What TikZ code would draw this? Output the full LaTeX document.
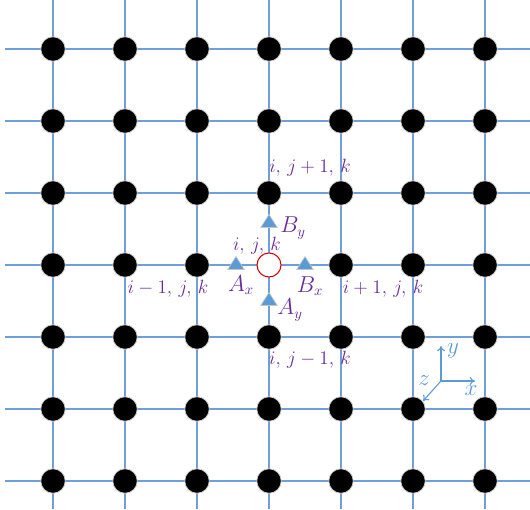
\documentclass[tikz,border=0pt]{standalone}
\usepackage{tikz}
\usetikzlibrary{shapes.geometric,arrows.meta,positioning}
\definecolor{gridblue}{HTML}{6F9FD8}
\definecolor{triblue}{HTML}{5B9BD5}
\definecolor{labelpurple}{HTML}{6A2C9C}

\begin{document}
\begin{tikzpicture}[x=0.75pt, y=-0.75pt,
    gridline/.style={draw=gridblue, line width=0.9pt},
    node/.style={circle, fill=black, draw=gray!40, line width=0.6pt, minimum size=24.5pt*0.75, inner sep=0pt},
    centre/.style={circle, fill=white, draw=red!85!black, line width=0.8pt, minimum size=24pt*0.75, inner sep=0pt},
    flux/.style={isosceles triangle, shape border rotate=90, isosceles triangle apex angle=65, fill=triblue, draw=gray!45, line width=0.5pt, minimum height=13pt*0.75, minimum width=15pt*0.75, inner sep=0pt},
    lbl/.style={font=\fontsize{14}{16}\selectfont, text=labelpurple, inner sep=0pt},
    fluxlbl/.style={lbl, font=\fontsize{16}{18}\selectfont},
    axis/.style={draw=triblue, line width=0.8pt, -{To[length=4pt, width=6pt]}},
    axlbl/.style={font=\fontsize{16}{18}\selectfont, text=triblue, inner sep=0pt}
]
\useasboundingbox (0,0) rectangle (530,509);

% Grid lines
\foreach \i in {0,...,6} {
    \draw[gridline] (5,49+72*\i) -- (530,49+72*\i);
    \draw[gridline] (53+72*\i,0) -- (53+72*\i,509);
}

% Grid points
\foreach \i in {0,...,6} {
    \foreach \j in {0,...,6} {
        \ifnum\i=3 \ifnum\j=3 \else
            \node[node] (n-\i-\j) at (53+72*\i,49+72*\j) {};
        \fi \else
            \node[node] (n-\i-\j) at (53+72*\i,49+72*\j) {};
        \fi
    }
}

% Centre cell
\node[centre] (c) at (269,265) {};
\node[lbl] (cl) at (257,246) {$i,\, j,\, k$};

% Flux points
\node[flux] (ax) at (236,265) {};
\node[flux] (bx) at (305,265) {};
\node[flux] (by) at (269,223) {};
\node[flux] (ay) at (269,301) {};
\node[fluxlbl] (axl) at (241,285) {$A_x$};
\node[fluxlbl] (bxl) at (310,286) {$B_x$};
\node[fluxlbl] (byl) at (293,228) {$B_y$};
\node[fluxlbl] (ayl) at (290,310) {$A_y$};

% Neighbour labels
\node[lbl] (up) at (310,168) {$i,\, j+1,\, k$};
\node[lbl] (down) at (310,360) {$i,\, j-1,\, k$};
\node[lbl] (left) at (168,289) {$i-1,\, j,\, k$};
\node[lbl] (right) at (383,289) {$i+1,\, j,\, k$};

% Axes
\coordinate (o) at (441,381);
\coordinate (xe) at (475,381);
\coordinate (ye) at (441,346);
\coordinate (ze) at (423,401);
\draw[axis] (o) -- (xe);
\draw[axis] (o) -- (ye);
\draw[axis] (o) -- (ze);
\node[axlbl] (xl) at (471,391) {$x$};
\node[axlbl] (yl) at (453,351) {$y$};
\node[axlbl] (zl) at (424,381) {$z$};

\end{tikzpicture}
\end{document}
